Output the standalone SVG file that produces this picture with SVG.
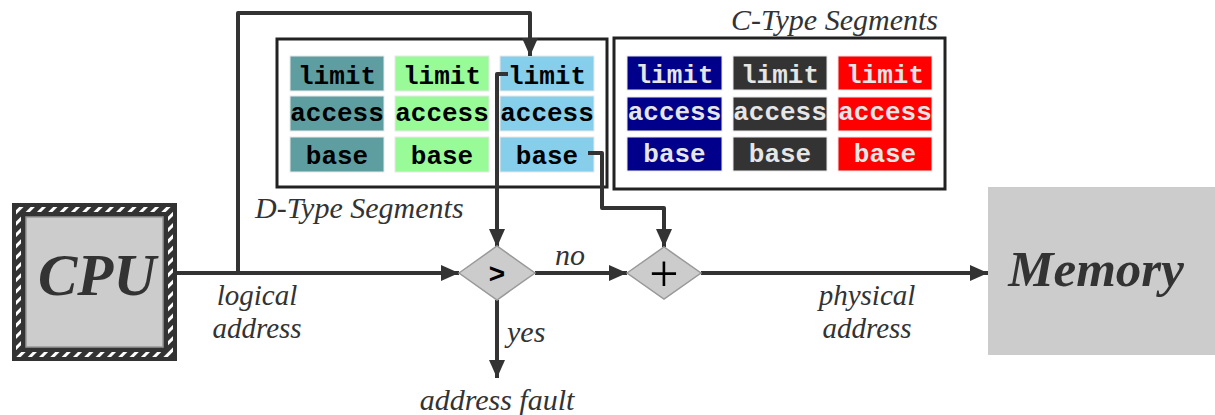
<svg xmlns="http://www.w3.org/2000/svg" width="1215" height="415" viewBox="0 0 1215 415">
<defs>
<pattern id="hatch" width="8" height="8" patternUnits="userSpaceOnUse" patternTransform="rotate(45)">
<rect width="8" height="8" fill="#333"/>
<rect x="0" y="0" width="3" height="8" fill="#fff"/>
</pattern>
<marker id="arr" markerUnits="userSpaceOnUse" markerWidth="18" markerHeight="16" refX="18" refY="8" orient="auto">
<path d="M0,0 L18,8 L0,16 z" fill="#333"/>
</marker>
<style>
.seg{stroke:#e8e8e8;stroke-width:1}
.mono{font-family:"Liberation Mono","Courier New",monospace;font-weight:bold;font-size:26px;text-anchor:middle}
.dk{fill:#000}
.lt{fill:#e6e6e6}
.lbl{font-family:"Liberation Serif","Times New Roman",serif;font-style:italic;font-size:30px;fill:#333}
.sm{font-size:29px}
.big{font-family:"Liberation Serif","Times New Roman",serif;font-style:italic;font-weight:bold;fill:#333;text-anchor:middle}
.conn{fill:none;stroke:#333;stroke-width:4;stroke-linejoin:round}
.frame{fill:#fff;stroke:#222;stroke-width:3}
.dia{fill:#ccc;stroke:#999;stroke-width:1.5}
</style>
</defs>

<g id="cpu">
<rect x="12" y="203" width="165" height="158" fill="#333"/>
<rect x="16" y="207" width="157" height="150" fill="url(#hatch)"/>
<rect x="21" y="212" width="147" height="140" fill="#333"/>
<rect x="26" y="217" width="137" height="130" fill="#ccc" stroke="#999" stroke-width="1.5"/>
<text class="big" x="97" y="295" font-size="59">CPU</text>
</g>

<g id="memory">
<rect x="988" y="187" width="227" height="168" fill="#ccc"/>
<text class="big" x="1096" y="286" font-size="51">Memory</text>
</g>

<g id="d-type">
<rect class="frame" x="277" y="39" width="330" height="148"/>
<rect class="seg" x="290" y="56" width="94" height="35" fill="#5F9EA0"/>
<rect class="seg" x="290" y="96" width="94" height="35" fill="#5F9EA0"/>
<rect class="seg" x="290" y="137" width="94" height="35" fill="#5F9EA0"/>
<rect class="seg" x="395" y="56" width="94" height="35" fill="#98FB98"/>
<rect class="seg" x="395" y="96" width="94" height="35" fill="#98FB98"/>
<rect class="seg" x="395" y="137" width="94" height="35" fill="#98FB98"/>
<rect class="seg" x="500" y="56" width="94" height="35" fill="#87CEEB"/>
<rect class="seg" x="500" y="96" width="94" height="35" fill="#87CEEB"/>
<rect class="seg" x="500" y="137" width="94" height="35" fill="#87CEEB"/>
<text class="mono dk" x="337" y="84">limit</text>
<text class="mono dk" x="337" y="121">access</text>
<text class="mono dk" x="337" y="164">base</text>
<text class="mono dk" x="442" y="84">limit</text>
<text class="mono dk" x="442" y="121">access</text>
<text class="mono dk" x="442" y="164">base</text>
<text class="mono dk" x="547" y="84">limit</text>
<text class="mono dk" x="547" y="121">access</text>
<text class="mono dk" x="547" y="164">base</text>
<text class="lbl" x="255" y="218">D-Type Segments</text>
</g>

<g id="c-type">
<rect class="frame" x="614" y="38" width="331" height="151"/>
<rect class="seg" x="627" y="56" width="95" height="34" fill="#00008B"/>
<rect class="seg" x="627" y="97" width="95" height="34" fill="#00008B"/>
<rect class="seg" x="627" y="137" width="95" height="34" fill="#00008B"/>
<rect class="seg" x="733" y="56" width="94" height="34" fill="#333"/>
<rect class="seg" x="733" y="97" width="94" height="34" fill="#333"/>
<rect class="seg" x="733" y="137" width="94" height="34" fill="#333"/>
<rect class="seg" x="838" y="56" width="94" height="34" fill="#f00"/>
<rect class="seg" x="838" y="97" width="94" height="34" fill="#f00"/>
<rect class="seg" x="838" y="137" width="94" height="34" fill="#f00"/>
<text class="mono lt" x="674.5" y="83">limit</text>
<text class="mono lt" x="674.5" y="120">access</text>
<text class="mono lt" x="674.5" y="162">base</text>
<text class="mono lt" x="780" y="83">limit</text>
<text class="mono lt" x="780" y="120">access</text>
<text class="mono lt" x="780" y="162">base</text>
<text class="mono lt" x="885" y="83">limit</text>
<text class="mono lt" x="885" y="120">access</text>
<text class="mono lt" x="885" y="162">base</text>
<text class="lbl" x="938" y="30" text-anchor="end">C-Type Segments</text>
</g>

<g id="connectors">
<path class="conn" d="M177,273 H459" marker-end="url(#arr)"/>
<path class="conn" d="M238,273 V13 H530 V56" marker-end="url(#arr)"/>
<path class="conn" d="M508,74 H497 V247" marker-end="url(#arr)"/>
<path class="conn" d="M497,300 V378" marker-end="url(#arr)"/>
<path class="conn" d="M535,273 H627" marker-end="url(#arr)"/>
<path class="conn" d="M588,153 H602 V208 H664 V247" marker-end="url(#arr)"/>
<path class="conn" d="M701,273 H988" marker-end="url(#arr)"/>
</g>

<g id="compare">
<path class="dia" d="M459,273 L497,246 L535,273 L497,300 z"/>
<text x="497" y="283" font-family="Liberation Sans, Arial, sans-serif" font-weight="bold" font-size="28" text-anchor="middle" fill="#000">&gt;</text>
</g>

<g id="add">
<path class="dia" d="M627,273 L664,247 L701,273 L664,299 z"/>
<text x="664" y="291" font-family="Liberation Serif, Times New Roman, serif" font-size="52" text-anchor="middle" fill="#000">+</text>
</g>

<g id="labels">
<text class="lbl sm" x="257" y="305" text-anchor="middle">logical</text>
<text class="lbl sm" x="257" y="338" text-anchor="middle">address</text>
<text class="lbl sm" x="867" y="305" text-anchor="middle">physical</text>
<text class="lbl sm" x="867" y="338" text-anchor="middle">address</text>
<text class="lbl" x="570" y="265" text-anchor="middle">no</text>
<text class="lbl" x="507" y="342">yes</text>
<text class="lbl" x="497" y="410" text-anchor="middle">address fault</text>
</g>
</svg>
